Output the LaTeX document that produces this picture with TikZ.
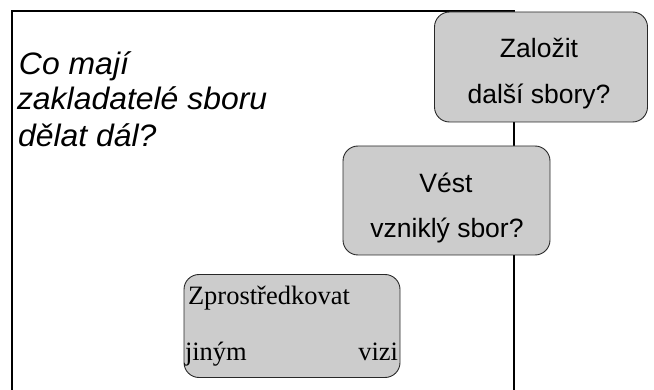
\documentclass[tikz,border=0pt]{standalone}
\usepackage{fontspec}
\setmainfont{Liberation Serif}
\newfontfamily\titlefont[FakeStretch=1.03]{Liberation Sans}
\newfontfamily\boxsans{Liberation Sans}
\newfontfamily\boxserif{Liberation Serif}
\definecolor{boxgray}{RGB}{204,204,204}
\definecolor{boxline}{RGB}{40,40,40}
\tikzset{
  frameline/.style={line width=2pt, black},
  qbox/.style={draw=boxline, line width=0.9pt, fill=boxgray, rounded corners=15pt,
    rectangle, inner sep=0pt},
  txt/.style={inner sep=0pt, outer sep=0pt},
  titletext/.style={txt, anchor=base west, font=\titlefont\itshape\fontsize{31}{36}\selectfont},
  sanstext/.style={txt, anchor=base, font=\boxsans\fontsize{26.5}{30}\selectfont},
  seriftext/.style={txt, font=\boxserif\fontsize{26.5}{30}\selectfont}
}
\begin{document}
\begin{tikzpicture}[x=1pt,y=-1pt]
\useasboundingbox (0,0) rectangle (654,390);
% frame
\coordinate (fbl) at (12,392);
\coordinate (ftl) at (12,11);
\coordinate (ftr) at (514,11);
\coordinate (fbr) at (514,392);
\draw[frameline] (fbl) -- (ftl) -- (ftr) -- (fbr);
% title
\node[titletext] (t1) at (19,75) {Co mají};
\node[titletext] (t2) at (17,110) {zakladatelé sboru};
\node[titletext] (t3) at (18,147) {dělat dál?};
% boxes
\node[qbox, minimum width=213pt, minimum height=110pt] (b1) at (541,67) {};
\node[sanstext] (b1a) at (539,58) {Založit};
\node[sanstext] (b1b) at (539,104) {další sbory?};
\node[qbox, minimum width=207pt, minimum height=109pt] (b2) at (446.5,200.5) {};
\node[sanstext] (b2a) at (446,193) {Vést};
\node[sanstext] (b2b) at (447,238) {vzniklý sbor?};
\node[qbox, minimum width=216pt, minimum height=103pt] (b3) at (292,326) {};
\node[seriftext, anchor=base west] (b3a) at (188,305) {Zprostředkovat};
\node[seriftext, anchor=base west] (b3b) at (185,361) {jiným};
\node[seriftext, anchor=base east] (b3c) at (398,361) {vizi};
\end{tikzpicture}
\end{document}
